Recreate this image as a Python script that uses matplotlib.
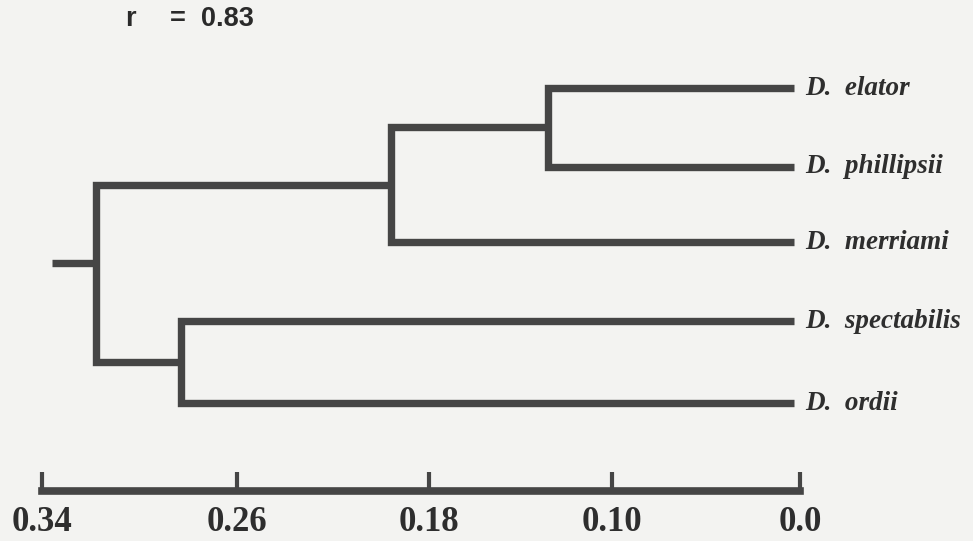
import numpy as np
from matplotlib import pyplot as plt

# leaves, top to bottom
leaf_names = ["D. elator", "D. phillipsii", "D. merriami", "D. spectabilis", "D. ordii"]
leaf_y = [0.0, 1.0, 1.96, 2.96, 4.0]
leaf_x = 0.003

# merges: (child a, child b, distance); ids >= 5 are earlier merges
merges = [(0, 1, 0.128), (5, 2, 0.196), (3, 4, 0.283), (6, 7, 0.318)]
root_stub = 0.336
root_stub_y = 2.22

tick_vals = [0.34, 0.26, 0.18, 0.10, 0.0]
tick_labels = ["0.34", "0.26", "0.18", "0.10", "0.0"]
r_name = "r"
r_value = "=  0.83"

# the printed scale has evenly spaced ticks, so map it piecewise
scale_vals = [0.0, 0.10, 0.18, 0.26, 0.34]
scale_pos = [0, 188, 371, 563, 758]


def fwd(v):
    return np.interp(v, scale_vals, scale_pos)


def inv(p):
    return np.interp(p, scale_pos, scale_vals)


ink = "#454545"
paper = "#f3f3f1"

fig = plt.figure(figsize=(9.73, 5.41), dpi=100, facecolor=paper)
ax = fig.add_axes([42 / 973, 50 / 541, 758 / 973, 451 / 541])
ax.set_facecolor("none")
ax.set_xscale("function", functions=(fwd, inv))
ax.set_xlim(0.34, 0.0)
ax.set_ylim(5.117, -0.61)

node_x = [leaf_x] * len(leaf_names)
node_y = list(leaf_y)
for a, b, h in merges:
    ax.plot([node_x[a], h, h, node_x[b]], [node_y[a], node_y[a], node_y[b], node_y[b]],
            color=ink, lw=5.3, solid_capstyle="butt", solid_joinstyle="miter")
    node_x.append(h)
    node_y.append((node_y[a] + node_y[b]) / 2)
ax.plot([node_x[-1], root_stub], [root_stub_y, root_stub_y],
        color=ink, lw=5.3, solid_capstyle="butt")

for name, y in zip(leaf_names, leaf_y):
    ax.annotate(name.replace(" ", "  "), (0.0, y), xytext=(4, 0), textcoords="offset points",
                va="center", ha="left", fontsize=19.5, family="Liberation Serif",
                style="italic", weight="bold", color="#2e2e2e", annotation_clip=False)

for s in ["left", "top", "right"]:
    ax.spines[s].set_visible(False)
ax.spines["bottom"].set_linewidth(5.5)
ax.spines["bottom"].set_color(ink)
ax.set_yticks([])
ax.set_xticks(tick_vals)
ax.set_xticklabels(tick_labels, family="Liberation Serif", weight="bold", fontsize=25, color="#2e2e2e")
ax.tick_params(axis="x", direction="in", length=14, width=3, color=ink, pad=11)

fig.text(125 / 973, 1 - 19 / 541, r_name, ha="left", va="center", fontsize=19.5,
         family="Liberation Sans", weight="bold", color="#2a2a2a")
fig.text(170 / 973, 1 - 19 / 541, r_value, ha="left", va="center", fontsize=19.5,
         family="Liberation Sans", weight="bold", color="#2a2a2a")

plt.savefig("out.png", dpi=100, facecolor=paper)
